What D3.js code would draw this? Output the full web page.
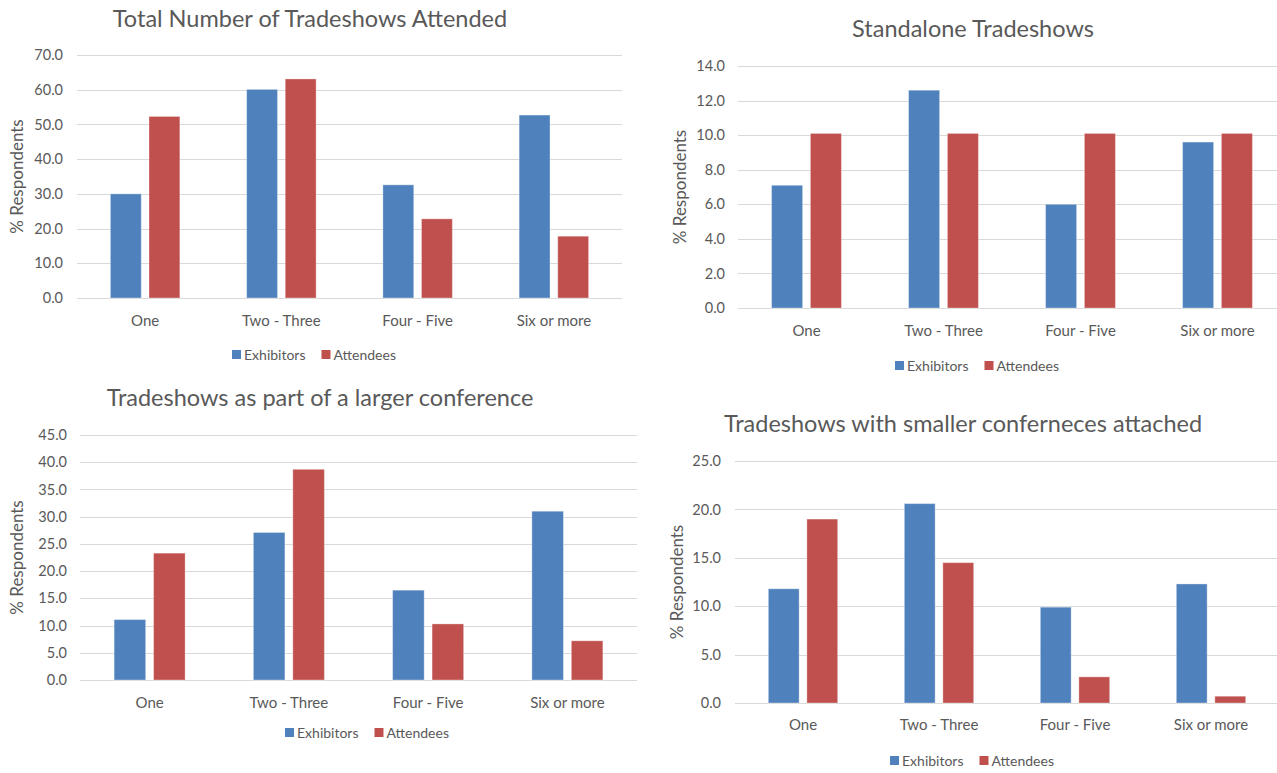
<!DOCTYPE html>
<html>
<head>
<meta charset="utf-8">
<script src="https://cdn.jsdelivr.net/npm/d3@7"></script>
<style>
  html, body { margin: 0; padding: 0; background: #ffffff; }
  svg { display: block; }
  text { font-family: Lato, "Open Sans", "DejaVu Sans", sans-serif; fill: #595959; }
</style>
</head>
<body>
<svg id="chart" width="1277" height="773"></svg>
<script>
// Shared categories and series
const categories = ["One", "Two - Three", "Four - Five", "Six or more"];
const seriesNames = ["Exhibitors", "Attendees"];
const seriesColors = ["#4F81BD", "#C0504D"];

// Total Number of Tradeshows Attended
const totalExhibitors = [30.0, 60.1, 32.6, 52.7];
const totalAttendees  = [52.3, 63.1, 22.8, 17.8];
const totalTicks = [0, 10, 20, 30, 40, 50, 60, 70];

// Standalone Tradeshows
const standaloneExhibitors = [7.1, 12.6, 6.0, 9.6];
const standaloneAttendees  = [10.1, 10.1, 10.1, 10.1];
const standaloneTicks = [0, 2, 4, 6, 8, 10, 12, 14];

// Tradeshows as part of a larger conference
const largerExhibitors = [11.1, 27.1, 16.5, 31.0];
const largerAttendees  = [23.3, 38.7, 10.3, 7.2];
const largerTicks = [0, 5, 10, 15, 20, 25, 30, 35, 40, 45];

// Tradeshows with smaller conferences attached
const smallerExhibitors = [11.8, 20.6, 9.9, 12.3];
const smallerAttendees  = [19.0, 14.5, 2.7, 0.7];
const smallerTicks = [0, 5, 10, 15, 20, 25];

const panels = [
  { title: "Total Number of Tradeshows Attended",
    values: [totalExhibitors, totalAttendees], ticks: totalTicks,
    left: 77, right: 622, top: 55, bottom: 298,
    tickX: 63, titleX: 310, titleY: 27, yLabelX: 23, catY: 325, legendX: 314, legendY: 355 },
  { title: "Standalone Tradeshows",
    values: [standaloneExhibitors, standaloneAttendees], ticks: standaloneTicks,
    left: 738, right: 1286, top: 66, bottom: 308,
    tickX: 725, titleX: 973, titleY: 37, yLabelX: 686, catY: 335, legendX: 977, legendY: 366 },
  { title: "Tradeshows as part of a larger conference",
    values: [largerExhibitors, largerAttendees], ticks: largerTicks,
    left: 80, right: 637, top: 435, bottom: 680,
    tickX: 67, titleX: 320, titleY: 406, yLabelX: 23, catY: 707, legendX: 367, legendY: 733 },
  { title: "Tradeshows with smaller conferneces attached",
    values: [smallerExhibitors, smallerAttendees], ticks: smallerTicks,
    left: 735, right: 1279, top: 461, bottom: 703,
    tickX: 721, titleX: 963, titleY: 432, yLabelX: 683, catY: 729, legendX: 972, legendY: 761 }
];

const svg = d3.select("#chart");

panels.forEach(p => {
  const g = svg.append("g");
  const maxTick = p.ticks[p.ticks.length - 1];

  const x0 = d3.scaleBand().domain(categories).range([p.left, p.right]).padding(0);
  const groupW = x0.bandwidth() * 0.51;
  const x1 = d3.scaleBand().domain(seriesNames).range([-groupW / 2, groupW / 2]).paddingInner(0.2);
  const y = d3.scaleLinear().domain([0, maxTick]).range([p.bottom, p.top]);

  // gridlines
  g.append("g").selectAll("line").data(p.ticks).join("line")
    .attr("x1", p.left).attr("x2", p.right)
    .attr("y1", d => Math.round(y(d)) + 0.5).attr("y2", d => Math.round(y(d)) + 0.5)
    .attr("stroke", "#D9D9D9").attr("stroke-width", 1.2);

  // y tick labels
  const yAxis = d3.axisLeft(y).tickValues(p.ticks).tickFormat(d3.format(".1f")).tickSize(0).tickPadding(0);
  const ya = g.append("g").attr("transform", `translate(${p.tickX},0)`).call(yAxis);
  ya.select(".domain").remove();
  ya.selectAll("text").attr("font-size", 14.5).attr("fill", "#595959")
    .style("font-family", "Lato, 'Open Sans', sans-serif");

  // category labels
  const xAxis = d3.axisBottom(x0).tickSize(0).tickPadding(0);
  const xa = g.append("g").attr("transform", `translate(0,${p.catY - 10})`).call(xAxis);
  xa.select(".domain").remove();
  xa.selectAll("text").attr("font-size", 15).attr("fill", "#595959")
    .style("font-family", "Lato, 'Open Sans', sans-serif");

  // bars
  const rows = categories.map((c, i) => ({ cat: c, vals: seriesNames.map((s, k) => ({ s, k, v: p.values[k][i] })) }));
  const grp = g.append("g").selectAll("g").data(rows).join("g")
    .attr("transform", d => `translate(${x0(d.cat) + x0.bandwidth() / 2},0)`);
  grp.selectAll("rect").data(d => d.vals).join("rect")
    .attr("x", d => x1(d.s))
    .attr("width", x1.bandwidth())
    .attr("y", d => y(d.v))
    .attr("height", d => y(0) - y(d.v))
    .attr("fill", d => seriesColors[d.k])
    .attr("stroke", "#ffffff").attr("stroke-opacity", 0.35).attr("stroke-width", 1);

  // title
  g.append("text").attr("x", p.titleX).attr("y", p.titleY)
    .attr("text-anchor", "middle").attr("font-size", 23.5).text(p.title);

  // y axis title
  g.append("text")
    .attr("transform", `translate(${p.yLabelX},${(p.top + p.bottom) / 2}) rotate(-90)`)
    .attr("text-anchor", "middle").attr("font-size", 17).text("% Respondents");

  // legend
  const leg = g.append("g");
  const items = leg.selectAll("g").data(seriesNames).join("g");
  items.append("rect").attr("width", 9).attr("height", 9).attr("y", -5)
    .attr("fill", (d, i) => seriesColors[i]);
  items.append("text").attr("x", 12).attr("y", 0).attr("dy", "0.35em")
    .attr("font-size", 14).text(d => d);
  let off = 0;
  items.each(function () {
    d3.select(this).attr("transform", `translate(${off},0)`);
    off += this.getBBox().width + 16;
  });
  const total = off - 16;
  leg.attr("transform", `translate(${p.legendX - total / 2},${p.legendY})`);
});
</script>
</body>
</html>
